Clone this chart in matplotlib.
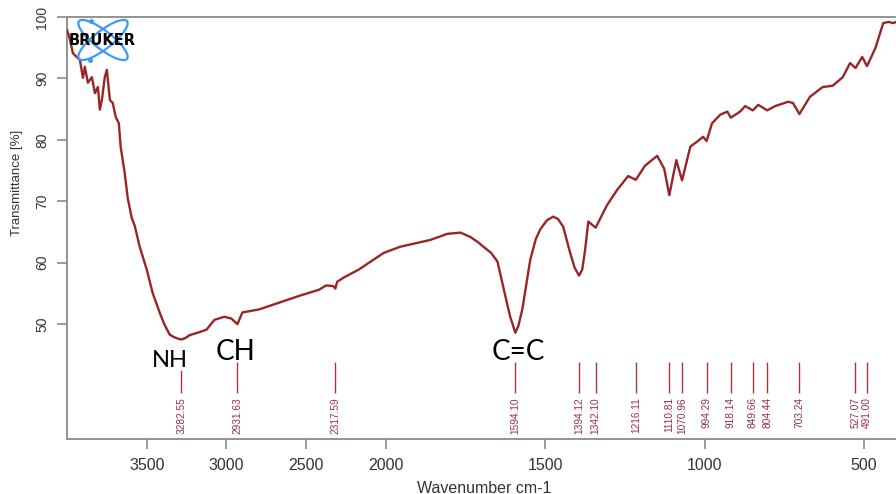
import numpy as np
import matplotlib
matplotlib.use("Agg")
import matplotlib.pyplot as plt
from matplotlib.patches import Ellipse

plt.rcParams['font.family'] = ['Liberation Sans', 'DejaVu Sans']

# IR spectrum (wavenumber in cm-1, transmittance in %)
wavenumber = [4000, 3981, 3963, 3919, 3900, 3888, 3869, 3844, 3825, 3806, 3794, 3781,
              3763, 3750, 3731, 3713, 3694, 3675, 3663, 3638, 3619, 3594, 3575, 3544,
              3500, 3463, 3419, 3390, 3356, 3330, 3300, 3282, 3260, 3231, 3169, 3125,
              3075, 3013, 2969, 2931, 2900, 2794, 2669, 2544, 2419, 2375, 2330, 2317,
              2305, 2263, 2169, 2013, 1955, 1861, 1807, 1766, 1735, 1710, 1694, 1670,
              1650, 1632, 1620, 1610, 1600, 1594, 1585, 1572, 1560, 1547, 1530, 1516,
              1495, 1475, 1460, 1444, 1422, 1408, 1394, 1384, 1375, 1365, 1342, 1306,
              1274, 1240, 1216, 1187, 1149, 1127, 1111, 1089, 1071, 1045, 1024, 1005,
              994, 977, 951, 929, 918, 889, 873, 849, 832, 804, 779, 738, 723, 703,
              670, 630, 599, 567, 544, 527, 506, 491, 465, 440, 424, 408, 400]
transmittance = [97.9, 96.3, 94.1, 93.0, 90.1, 91.9, 89.3, 90.2, 87.6, 88.6, 84.9, 86.5,
                 90.2, 91.4, 86.5, 86.0, 83.7, 82.7, 78.8, 74.6, 70.5, 67.3, 66.0, 62.6,
                 58.9, 55.1, 51.9, 50.0, 48.3, 47.9, 47.6, 47.5, 47.7, 48.2, 48.7, 49.1,
                 50.7, 51.2, 50.9, 50.0, 51.9, 52.4, 53.5, 54.6, 55.6, 56.3, 56.2, 55.8,
                 56.9, 57.6, 58.9, 61.6, 62.6, 63.7, 64.7, 64.9, 64.2, 63.3, 62.6, 61.6,
                 60.2, 56.1, 53.4, 51.2, 49.6, 48.6, 49.6, 52.4, 56.3, 60.5, 63.8, 65.4,
                 66.9, 67.5, 67.1, 65.9, 61.6, 59.2, 57.9, 58.9, 62.1, 66.7, 65.7, 69.4,
                 71.9, 74.1, 73.5, 75.8, 77.4, 75.3, 71.0, 76.7, 73.4, 78.9, 79.7, 80.5,
                 79.8, 82.7, 84.1, 84.6, 83.6, 84.6, 85.5, 84.8, 85.7, 84.8, 85.5, 86.2,
                 86.0, 84.2, 87.0, 88.6, 88.8, 90.2, 92.5, 91.7, 93.5, 92.0, 94.9, 99.0,
                 99.2, 99.0, 99.2]

# Picked peaks
peak_positions = [3282.55, 2931.63, 2317.59, 1594.10, 1394.12, 1342.10, 1216.11, 1110.81,
                  1070.96, 994.29, 918.14, 849.66, 804.44, 703.24, 527.07, 491.00]

x_ticks = [3500, 3000, 2500, 2000, 1500, 1000, 500]
y_ticks = [50, 60, 70, 80, 90, 100]


# Wavenumber axis compressed by a factor of two above 2000 cm-1
def fwd(w):
    w = np.asarray(w, dtype=float)
    return np.where(w > 2000, 2000 + (w - 2000) / 2.0, w)


def inv(u):
    u = np.asarray(u, dtype=float)
    return np.where(u > 2000, 2000 + (u - 2000) * 2.0, u)


W, H = 896, 494
fig = plt.figure(figsize=(W / 100, H / 100), dpi=100)
ax = fig.add_axes([67 / W, 1 - 439 / H, 1 - 67 / W, (439 - 17) / H])
ax.set_xscale('function', functions=(fwd, inv))
ax.set_xlim(4000, 400)
ax.set_ylim(31.3, 100)

line_col = '#982626'
ax.plot(wavenumber, transmittance, color=line_col, lw=1.7, solid_joinstyle='round',
        solid_capstyle='round', zorder=3)

# peak markers and their labels
ax.vlines(peak_positions, 38.8, 43.8, color='#a53a3a', lw=1.0, zorder=2)
for p in peak_positions:
    ax.text(p, 38.1, f"{p:.2f}", rotation=90, ha='center', va='top',
            fontsize=7.3, color='#9c2f45')

# band assignments
ax.text(3353, 43.1, 'NH', ha='center', va='baseline', fontsize=17, family='Lato',
        color='black', zorder=4,
        bbox=dict(facecolor='white', edgecolor='none', pad=0.2))
ax.text(2944, 44.1, 'CH', ha='center', va='baseline', fontsize=20, family='Lato',
        color='black', zorder=4)
ax.text(1586, 44.2, 'C=C', ha='center', va='baseline', fontsize=20, family='Lato',
        color='black', zorder=4)

ax.set_xticks(x_ticks)
ax.set_xticklabels([str(t) for t in x_ticks])
ax.set_yticks(y_ticks)
ax.set_yticklabels([str(t) for t in y_ticks])
ax.minorticks_off()

spine_col = '#8a8a8a'
for side in ['left', 'bottom', 'top']:
    ax.spines[side].set_color(spine_col)
    ax.spines[side].set_linewidth(1.3)
ax.spines['right'].set_visible(False)

ax.tick_params(axis='x', length=7, width=1.2, color=spine_col, labelsize=11.5,
               labelcolor='#333333', pad=7)
ax.tick_params(axis='y', length=7, width=1.2, color=spine_col, labelsize=10,
               labelcolor='#333333', pad=6, labelrotation=90)
for lab in ax.get_yticklabels():
    lab.set_va('center')

fig.text(17 / W, 1 - 183 / H, 'Transmittance [%]', rotation=90, ha='center', va='center',
         fontsize=9.5, color='#333333')
fig.text(484 / W, 1 - 488 / H, 'Wavenumber cm-1', ha='center', va='center',
         fontsize=11.5, color='#333333')

# instrument logo
lax = fig.add_axes([55 / W, 1 - 70 / H, 95 / W, 60 / H])
lax.set_xlim(55, 150)
lax.set_ylim(70, 10)
lax.axis('off')
logo_blue = '#3d9af2'
for ang in (38, -38):
    lax.add_patch(Ellipse((103, 40), 61, 18, angle=ang, fill=False,
                          edgecolor=logo_blue, lw=1.6))
lax.plot([91, 90], [21, 60], 'o', color=logo_blue, ms=2.5, ls='none')
lax.text(102, 40.5, 'BRUKER', ha='center', va='center', fontsize=10.5, weight='bold',
         family='DejaVu Sans', color='black')

fig.savefig('out.png', dpi=100)
